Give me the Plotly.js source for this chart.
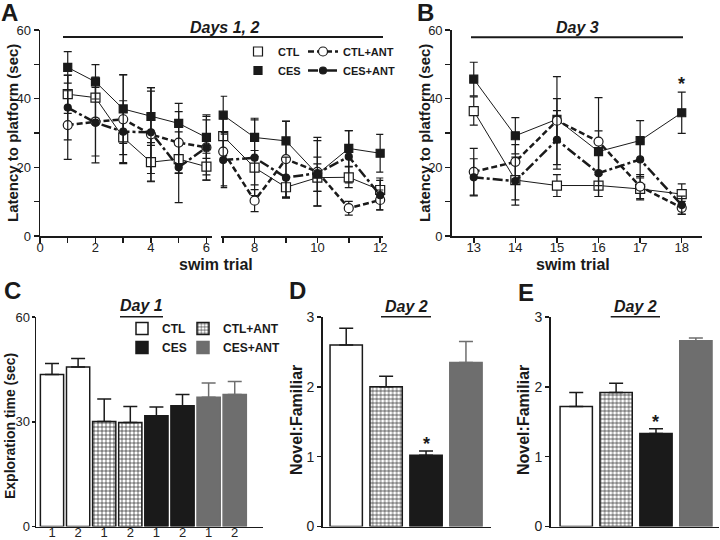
<!DOCTYPE html>
<html>
<head>
<meta charset="utf-8">
<script src="https://cdn.plot.ly/plotly-3.0.1.min.js"></script>
<style>
  html, body { margin: 0; padding: 0; background: #fff; }
  #chart { width: 720px; height: 540px; }
</style>
</head>
<body>
<div id="chart"></div>
<script>
// A/B: latency to platform (sec), mean and SEM per swim trial
const trialsA = [1, 2, 3, 4, 5, 6, 7, 8, 9, 10, 11, 12];
const trialsB = [13, 14, 15, 16, 17, 18];

const ctlA = [41.3, 40.3, 28.7, 21.5, 22.4, 20.2, 29.1, 19.9, 14.2, 17.0, 17.1, 13.4];
const ctlAErr = [5.6, 6.0, 5.0, 5.7, 4.0, 3.9, 5.0, 5.0, 3.0, 4.0, 3.0, 3.5];
const cesA = [49.1, 44.9, 37.0, 34.8, 32.8, 28.7, 35.2, 28.7, 27.7, 18.0, 25.5, 24.1];
const cesAErr = [4.6, 5.0, 10.0, 8.4, 5.8, 6.1, 5.5, 5.6, 5.8, 5.0, 5.2, 5.5];
const ctlAntA = [32.3, 33.3, 34.0, 29.6, 27.2, 25.8, 24.6, 10.3, 22.4, 18.7, 8.1, 10.5];
const ctlAntAErr = [10.0, 10.0, 12.9, 13.6, 9.0, 8.0, 10.0, 3.2, 11.0, 10.0, 2.0, 2.9];
const cesAntA = [37.4, 33.0, 30.4, 30.2, 20.0, 25.8, 22.1, 22.8, 17.0, 18.3, 23.1, 11.9];
const cesAntAErr = [9.4, 11.7, 9.0, 12.0, 10.3, 9.5, 8.0, 11.0, 6.0, 9.5, 7.6, 4.3];

const ctlB = [36.4, 16.3, 14.7, 14.7, 13.7, 12.2];
const ctlBErr = [4.1, 5.8, 3.2, 3.2, 3.2, 3.0];
const cesB = [45.7, 29.2, 34.0, 24.6, 27.8, 35.9];
const cesBErr = [4.9, 5.3, 6.0, 6.0, 5.8, 6.0];
const ctlAntB = [18.7, 21.6, 33.6, 27.5, 14.4, 8.2];
const ctlAntBErr = [6.8, 5.0, 12.8, 12.8, 3.5, 1.9];
const cesAntB = [17.1, 16.0, 28.0, 18.3, 22.3, 9.0];
const cesAntBErr = [5.4, 7.0, 8.5, 6.8, 5.0, 2.6];

// C: exploration time (sec), sessions 1 and 2 of day 1
const sessionLabels = ['1', '2'];
const ctlExplore = [43.5, 45.7];
const ctlExploreErr = [3.2, 2.4];
const ctlAntExplore = [30.1, 29.8];
const ctlAntExploreErr = [6.4, 4.6];
const cesExplore = [31.7, 34.6];
const cesExploreErr = [2.5, 3.2];
const cesAntExplore = [37.0, 37.8];
const cesAntExploreErr = [4.1, 3.7];

// D/E: novel:familiar ratio, day 2 (order CTL, CTL+ANT, CES, CES+ANT)
const ratioD = [2.60, 2.00, 1.02, 2.35];
const ratioDErr = [0.24, 0.15, 0.06, 0.30];
const ratioE = [1.72, 1.92, 1.33, 2.66];
const ratioEErr = [0.20, 0.13, 0.07, 0.04];

const FONT = '"Liberation Sans", Arial, Helvetica, sans-serif';
const INK = '#1a1a1a';
const GREY = '#6e6e6e';

const lineStyle = {
  'CTL': { symbol: 'square', fill: '#fff', size: 9, dash: 'solid', width: 1 },
  'CES': { symbol: 'square', fill: INK, size: 8, dash: 'solid', width: 1 },
  'CTL+ANT': { symbol: 'circle', fill: '#fff', size: 9, dash: '6px,3px', width: 2.5 },
  'CES+ANT': { symbol: 'circle', fill: INK, size: 7, dash: '10px,3px,3px,3px', width: 2.5 }
};

const barStyle = {
  'CTL': { color: '#fff', line: INK, err: INK },
  'CTL+ANT': { color: '#fff', line: INK, err: INK, pattern: true },
  'CES': { color: INK, line: INK, err: INK },
  'CES+ANT': { color: GREY, line: GREY, err: GREY }
};

function marker (name) {
  const s = lineStyle[name];
  return { symbol: s.symbol, size: s.size, color: s.fill, line: { color: INK, width: 1.2 } };
}

function lineTrace (name, xs, ys, errs, xa, ya, extra) {
  const s = lineStyle[name];
  return Object.assign({
    type: 'scatter',
    mode: 'lines+markers',
    name: name,
    x: xs, y: ys,
    xaxis: xa, yaxis: ya,
    line: { color: INK, width: s.width, dash: s.dash },
    marker: marker(name),
    error_y: { type: 'data', array: errs, color: INK, thickness: 1.2, width: 4 },
    showlegend: false,
    cliponaxis: false
  }, extra || {});
}

function barTrace (name, xs, ys, errs, xa, ya, width, extra) {
  const s = barStyle[name];
  const m = { color: s.color, line: { color: s.line, width: 1.5 } };
  if (s.pattern) {
    m.pattern = { shape: '+', size: 4, solidity: 0.3, fgcolor: '#222', bgcolor: '#fff', fillmode: 'replace' };
  }
  return Object.assign({
    type: 'bar',
    name: name,
    x: xs, y: ys,
    xaxis: xa, yaxis: ya,
    width: width,
    marker: m,
    error_y: { type: 'data', symmetric: false, array: errs, arrayminus: errs.map(() => 0), color: s.err, thickness: 1.5, width: 7 },
    showlegend: false
  }, extra || {});
}

const traces = [];

// panel A, split at the axis break (trials 1-6 | 7-12)
const seriesA = [
  ['CTL', ctlA, ctlAErr],
  ['CES', cesA, cesAErr],
  ['CTL+ANT', ctlAntA, ctlAntAErr],
  ['CES+ANT', cesAntA, cesAntAErr]
];
seriesA.forEach(([name, ys, errs]) => {
  const withLine = name.indexOf('ANT') > 0;
  traces.push(lineTrace(name, trialsA.slice(0, 6), ys.slice(0, 6), errs.slice(0, 6), 'x', 'y',
    withLine ? { showlegend: true, legend: 'legend2' } : {}));
  traces.push(lineTrace(name, trialsA.slice(6), ys.slice(6), errs.slice(6), 'x2', 'y'));
  if (!withLine) {
    // marker-only legend entry, like the original key
    traces.push({ type: 'scatter', mode: 'markers', name: name, x: [null], y: [null],
      xaxis: 'x', yaxis: 'y', marker: marker(name), showlegend: true, legend: 'legend' });
  }
});

// panel B
[
  ['CTL', ctlB, ctlBErr],
  ['CES', cesB, cesBErr],
  ['CTL+ANT', ctlAntB, ctlAntBErr],
  ['CES+ANT', cesAntB, cesAntBErr]
].forEach(([name, ys, errs]) => {
  traces.push(lineTrace(name, trialsB, ys, errs, 'x3', 'y3'));
});

// panel C: two bars per group
const groupsC = [
  ['CTL', ctlExplore, ctlExploreErr, 'legend3'],
  ['CTL+ANT', ctlAntExplore, ctlAntExploreErr, 'legend4'],
  ['CES', cesExplore, cesExploreErr, 'legend3'],
  ['CES+ANT', cesAntExplore, cesAntExploreErr, 'legend4']
];
const tickvalsC = [];
const ticktextC = [];
groupsC.forEach(([name, ys, errs, leg], g) => {
  const xs = sessionLabels.map((lab, k) => g * sessionLabels.length + k);
  xs.forEach((x, k) => { tickvalsC.push(x); ticktextC.push(sessionLabels[k]); });
  traces.push(barTrace(name, xs, ys, errs, 'x4', 'y4', 0.89, { showlegend: true, legend: leg }));
});

// panels D and E
const barOrder = ['CTL', 'CTL+ANT', 'CES', 'CES+ANT'];
barOrder.forEach((name, i) => {
  traces.push(barTrace(name, [i], [ratioD[i]], [ratioDErr[i]], 'x5', 'y5', 0.81));
  traces.push(barTrace(name, [i], [ratioE[i]], [ratioEErr[i]], 'x6', 'y6', 0.81));
});

// pixel helpers (margins are zero, so paper == picture)
const px = (x) => x / 720;
const py = (y) => 1 - y / 540;

const tickFont = { family: FONT, size: 13, color: '#222' };
const minorTicks = (dt) => ({ dtick: dt, ticks: 'outside', ticklen: 5, tickwidth: 1.5, tickcolor: INK });

function baseAxis (extra) {
  return Object.assign({
    showgrid: false, zeroline: false,
    showline: true, linecolor: INK, linewidth: 1.5,
    ticks: 'outside', ticklen: 5, tickwidth: 1.5, tickcolor: INK,
    tickfont: tickFont, fixedrange: true
  }, extra);
}

const yA = [py(236), py(30)];
const yC = [py(526.5), py(317)];

const layout = {
  width: 720, height: 540,
  margin: { l: 0, r: 0, t: 0, b: 0 },
  paper_bgcolor: '#fff', plot_bgcolor: 'rgba(0,0,0,0)',
  font: { family: FONT, color: INK },
  barmode: 'overlay',
  xaxis: baseAxis({ domain: [px(40), px(211.7)], range: [0, 6.19], anchor: 'y',
    tickvals: [0, 2, 4, 6], minor: minorTicks(1), ticklabelstandoff: -6 }),
  xaxis2: baseAxis({ domain: [px(220.7), px(383.3)], range: [6.92, 12.1], anchor: 'y',
    tickvals: [8, 10, 12], minor: minorTicks(1), ticklabelstandoff: -6 }),
  yaxis: baseAxis({ domain: yA, range: [0, 60], anchor: 'x', tickvals: [0, 20, 40, 60],
    minor: minorTicks(10) }),
  xaxis3: baseAxis({ domain: [px(451.7), px(701.7)], range: [12.47, 18.48], anchor: 'y3', dtick: 1,
    ticklabelstandoff: -6 }),
  yaxis3: baseAxis({ domain: yA, range: [0, 60], anchor: 'x3', tickvals: [0, 20, 40, 60],
    minor: minorTicks(10) }),
  xaxis4: baseAxis({ domain: [px(36), px(263.3)], range: [-0.613, 8.095], anchor: 'y4',
    tickvals: tickvalsC, ticktext: ticktextC, ticks: '', ticklen: 0, ticklabelstandoff: -7 }),
  yaxis4: baseAxis({ domain: yC, range: [0, 60], anchor: 'x4', tickvals: [0, 30, 60],
    ticklen: 3, ticklabelstandoff: -1 }),
  xaxis5: baseAxis({ domain: [px(322.7), px(490.7)], range: [-0.589, 3.62], anchor: 'y5',
    showticklabels: false, ticks: '' }),
  yaxis5: baseAxis({ domain: yC, range: [0, 3], anchor: 'x5', dtick: 1, ticklen: 4,
    tickfont: { family: FONT, size: 14, color: '#222' } }),
  xaxis6: baseAxis({ domain: [px(550.7), px(719)], range: [-0.64, 3.58], anchor: 'y6',
    showticklabels: false, ticks: '' }),
  yaxis6: baseAxis({ domain: yC, range: [0, 3], anchor: 'x6', dtick: 1, ticklen: 4,
    tickfont: { family: FONT, size: 14, color: '#222' } }),
  showlegend: true
};

const legendBase = {
  bgcolor: 'rgba(0,0,0,0)', borderwidth: 0,
  xanchor: 'left', yanchor: 'top', orientation: 'v', traceorder: 'normal',
  font: { family: FONT, size: 11, color: INK, weight: 'bold' }
};
const legendFontC = { family: FONT, size: 12, color: INK, weight: 'bold' };
layout.legend = Object.assign({}, legendBase, { x: px(238), y: py(37) });
layout.legend2 = Object.assign({}, legendBase, { x: px(303), y: py(37) });
layout.legend3 = Object.assign({}, legendBase, { x: px(122), y: py(314), font: legendFontC });
layout.legend4 = Object.assign({}, legendBase, { x: px(183), y: py(314), font: legendFontC });

function note (text, x, y, size, extra) {
  return Object.assign({
    text: text, xref: 'paper', yref: 'paper', x: px(x), y: py(y),
    xanchor: 'center', yanchor: 'middle', showarrow: false,
    font: { family: FONT, size: size, color: INK, weight: 'bold' }
  }, extra || {});
}
const italic = (size) => ({ font: { family: FONT, size: size, color: INK, weight: 'bold', style: 'italic' } });
const vertical = { textangle: -90 };

// significance stars sit just above the CES error bar
const cesIdx = barOrder.indexOf('CES');
function star (xa, ya, x, y) {
  return { text: '*', xref: xa, yref: ya, x: x, y: y, yanchor: 'bottom', showarrow: false,
    font: { family: FONT, size: 18, color: INK, weight: 'bold' } };
}

layout.annotations = [
  note('A', 9, 12, 24),
  note('B', 425, 12, 24),
  note('C', 12, 290, 24),
  note('D', 297, 290, 24),
  note('E', 526, 292, 24),
  note('Days 1, 2', 224, 27.5, 16, italic(16)),
  note('Day 3', 577, 27.5, 16, italic(16)),
  note('Day 1', 141.7, 305, 16, italic(16)),
  note('Day 2', 406.7, 306.7, 16, italic(16)),
  note('Day 2', 635, 306.7, 16, italic(16)),
  note('Latency to platform (sec)', 13, 133, 15, vertical),
  note('Latency to platform (sec)', 425, 133, 15, vertical),
  note('swim trial', 216, 264, 16),
  note('swim trial', 573, 264, 16),
  note('Exploration time (sec)', 10, 426, 14, vertical),
  note('Novel:Familiar', 296, 420, 16, vertical),
  note('Novel:Familiar', 523, 420, 16, vertical),
  star('x3', 'y3', trialsB[trialsB.length - 1], cesB[cesB.length - 1] + cesBErr[cesBErr.length - 1] - 1),
  star('x5', 'y5', cesIdx, ratioD[cesIdx] + ratioDErr[cesIdx] - 0.07),
  star('x6', 'y6', cesIdx, ratioE[cesIdx] + ratioEErr[cesIdx] - 0.07)
];

function rule (x0, x1, y, w) {
  return { type: 'line', xref: 'paper', yref: 'paper', x0: px(x0), x1: px(x1), y0: py(y), y1: py(y),
    line: { color: INK, width: w } };
}
layout.shapes = [
  rule(63, 383, 37, 2),
  rule(471, 683, 37.3, 2),
  rule(120, 163, 316.7, 1.5),
  rule(381, 431, 316.7, 1.5),
  rule(610.7, 660, 316.7, 1.5)
];

Plotly.newPlot('chart', traces, layout, { displayModeBar: false, staticPlot: true });
</script>
</body>
</html>
